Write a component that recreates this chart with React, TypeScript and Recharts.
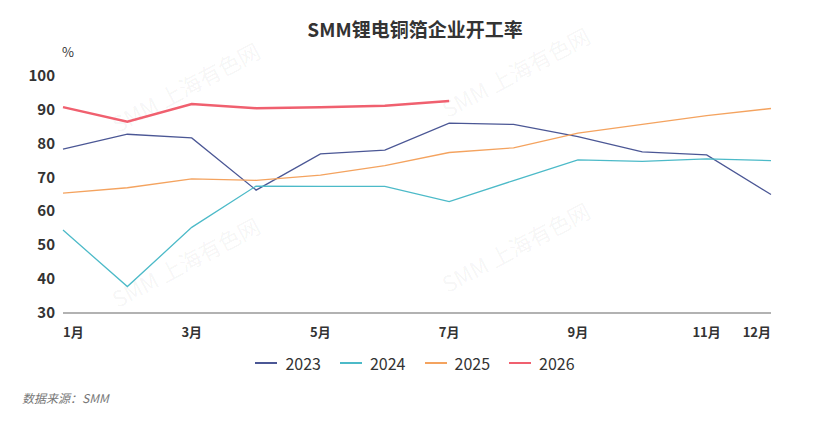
import React from "react";
import { LineChart, Line, XAxis, YAxis, Legend } from "recharts";

const months = [1, 2, 3, 4, 5, 6, 7, 8, 9, 10, 11, 12];
const s2023 = [78.4, 82.8, 81.7, 66.3, 77.0, 78.1, 86.1, 85.7, 82.1, 77.6, 76.7, 65.0];
const s2024 = [54.5, 37.8, 55.3, 67.5, 67.4, 67.4, 62.9, 69.1, 75.2, 74.8, 75.5, 75.0];
const s2025 = [65.4, 67.0, 69.6, 69.2, 70.7, 73.5, 77.4, 78.8, 83.1, 85.7, 88.3, 90.4];
const s2026 = [90.8, 86.5, 91.7, 90.5, 90.8, 91.2, 92.6];
const xTicks = [1, 3, 5, 7, 9, 11, 12];
const yTicks = [30, 40, 50, 60, 70, 80, 90, 100];
const seriesNames = ["2023", "2024", "2025", "2026"];
const seriesColors = ["#4b5795", "#4cbac8", "#f4a35f", "#f0606f"];
const seriesWidths = [1.3, 1.3, 1.3, 2.5];

const data = months.map((m, i) => ({
  m,
  "2023": s2023[i],
  "2024": s2024[i],
  "2025": s2025[i],
  "2026": i < s2026.length ? s2026[i] : null,
}));

const FONT = "'Noto Sans CJK SC', 'Noto Sans', sans-serif";

const XTick = (props: any) => {
  const { x, y, payload } = props;
  const v = payload.value;
  const anchor = v === 1 ? "start" : v === 12 ? "end" : "middle";
  return (
    <text x={x} y={y + 16} textAnchor={anchor} fill="#333" fontSize={13} fontWeight={700} fontFamily={FONT}>
      {v + "月"}
    </text>
  );
};

const YTick = (props: any) => {
  const { x, y, payload } = props;
  return (
    <text x={x} y={y + 5} textAnchor="end" fill="#333" fontSize={15} fontWeight={700} fontFamily={FONT}>
      {payload.value}
    </text>
  );
};

const LegendContent = () => (
  <div style={{ display: "flex", justifyContent: "center", alignItems: "center", fontFamily: FONT }}>
    {seriesNames.map((n, i) => (
      <div key={n} style={{ display: "flex", alignItems: "center", marginRight: i < 3 ? 19 : 0 }}>
        <div style={{ width: 22, height: 2, background: seriesColors[i], marginRight: 8 }} />
        <span style={{ fontSize: 16, color: "#333" }}>{n}</span>
      </div>
    ))}
  </div>
);

const watermarks = [
  { x: 190, y: 95 },
  { x: 190, y: 270 },
  { x: 520, y: 80 },
  { x: 520, y: 255 },
];

export default function App() {
  return (
    <div style={{ position: "relative", width: 830, height: 423, margin: -8, background: "#fff", overflow: "hidden" }}>
      <svg width={830} height={423} style={{ position: "absolute", left: 0, top: 0 }}>
        {watermarks.map((w, i) => (
          <text
            key={i}
            x={w.x}
            y={w.y}
            textAnchor="middle"
            fill="#000"
            fillOpacity={0.05}
            fontSize={22}
            fontFamily={FONT}
            transform={`rotate(-28 ${w.x} ${w.y})`}
          >
            SMM 上海有色网
          </text>
        ))}
      </svg>
      <div
        style={{
          position: "absolute",
          top: 15,
          left: 0,
          width: 830,
          textAlign: "center",
          fontFamily: FONT,
          fontWeight: 700,
          fontSize: 19,
          color: "#333",
        }}
      >
        SMM锂电铜箔企业开工率
      </div>
      <div style={{ position: "absolute", top: 42, left: 62, fontFamily: FONT, fontSize: 13, color: "#333" }}>%</div>
      <div
        style={{
          position: "absolute",
          top: 389,
          left: 22,
          fontFamily: FONT,
          fontSize: 12,
          fontStyle: "italic",
          color: "#777",
        }}
      >
        数据来源：SMM
      </div>
      <div style={{ position: "absolute", left: 0, top: 0 }}>
        <LineChart width={830} height={423} data={data} margin={{ top: 76, right: 59, bottom: 80, left: 13 }}>
          <XAxis
            dataKey="m"
            type="number"
            domain={[1, 12]}
            ticks={xTicks}
            interval={0}
            axisLine={{ stroke: "#999", strokeWidth: 1.5 }}
            tickLine={false}
            tick={<XTick />}
            height={30}
          />
          <YAxis
            domain={[30, 100]}
            ticks={yTicks}
            interval={0}
            axisLine={false}
            tickLine={false}
            tick={<YTick />}
            width={50}
          />
          <Legend
            layout="horizontal"
            verticalAlign="middle"
            content={<LegendContent />}
            wrapperStyle={{ position: "absolute", top: 351, left: 0, width: 830 }}
          />
          {seriesNames.map((n, i) => (
            <Line
              key={n}
              type="linear"
              dataKey={n}
              stroke={seriesColors[i]}
              strokeWidth={seriesWidths[i]}
              dot={false}
              activeDot={false}
              isAnimationActive={false}
              connectNulls={false}
            />
          ))}
        </LineChart>
      </div>
    </div>
  );
}
